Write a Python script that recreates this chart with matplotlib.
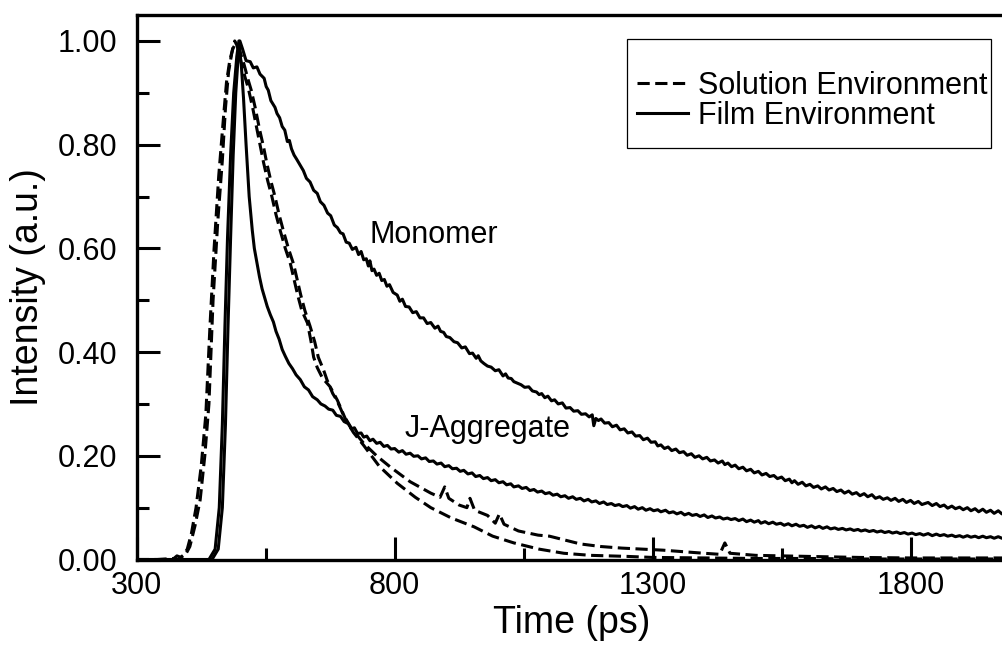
"""Time-resolved fluorescence decays: monomer vs J-aggregate, solution vs film.

Traces are read off the reference figure by eye (ps on x, normalised counts on y).
"""
import matplotlib
matplotlib.use("Agg")
import matplotlib.pyplot as plt
from matplotlib.lines import Line2D
from matplotlib.patches import Rectangle
from matplotlib.ticker import FixedLocator, FormatStrFormatter, MultipleLocator

# --- solution environment (dashed) -----------------------------------------
SOL_A_T = [300, 340, 372, 378, 386, 395, 403, 413, 423, 432, 440, 448, 457, 466,
           472, 478, 484, 490, 495, 502, 510, 516, 525, 533, 540, 546, 554, 562,
           570, 578, 588, 598, 605, 612, 620, 631, 638, 643, 650, 660, 675, 689,
           705, 720, 740, 770, 805, 840, 870, 910, 954, 990, 1031, 1080, 1128,
           1180, 1250, 1300, 1400, 1500, 1600, 1700, 1800, 1990]
SOL_A_I = [0.0, 0.0, 0.002, 0.007, 0.004, 0.01, 0.025, 0.065, 0.115, 0.20, 0.30,
           0.50, 0.65, 0.77, 0.87, 0.94, 0.975, 1.0, 0.99, 0.96, 0.93, 0.91, 0.87,
           0.83, 0.795, 0.765, 0.73, 0.70, 0.665, 0.635, 0.60, 0.57, 0.54, 0.51,
           0.48, 0.456, 0.42, 0.39, 0.37, 0.35, 0.333, 0.307, 0.27, 0.245, 0.22,
           0.18, 0.147, 0.12, 0.10, 0.08, 0.063, 0.045, 0.032, 0.02, 0.012, 0.008,
           0.006, 0.004, 0.003, 0.002, 0.002, 0.001, 0.001, 0.001]

SOL_B_T = [300, 345, 380, 390, 398, 406, 415, 425, 434, 442, 450, 459, 468, 474,
           480, 486, 492, 500, 508, 516, 522, 530, 538, 546, 552, 560, 568, 576,
           584, 594, 604, 611, 618, 626, 636, 645, 652, 662, 669, 680, 688, 700,
           715, 740, 765, 792, 830, 870, 888, 897, 905, 925, 940, 946, 955, 980,
           995, 1003, 1012, 1040, 1078, 1100, 1128, 1160, 1200, 1240, 1280, 1320,
           1360, 1400, 1430, 1440, 1450, 1500, 1600, 1700, 1800, 1900, 1990]
SOL_B_I = [0.0, 0.0, 0.0, 0.008, 0.02, 0.05, 0.10, 0.18, 0.28, 0.45, 0.60, 0.74,
           0.85, 0.92, 0.96, 0.985, 0.995, 0.98, 0.955, 0.925, 0.905, 0.87, 0.83,
           0.795, 0.765, 0.73, 0.70, 0.665, 0.635, 0.60, 0.57, 0.54, 0.51, 0.48,
           0.45, 0.42, 0.39, 0.366, 0.346, 0.32, 0.307, 0.28, 0.255, 0.224, 0.20,
           0.178, 0.15, 0.128, 0.12, 0.14, 0.118, 0.105, 0.10, 0.118, 0.095, 0.085,
           0.07, 0.088, 0.068, 0.055, 0.047, 0.045, 0.038, 0.03, 0.025, 0.022,
           0.02, 0.018, 0.015, 0.012, 0.01, 0.032, 0.012, 0.008, 0.006, 0.004,
           0.003, 0.003, 0.003]

# --- film environment (solid) -----------------------------------------------
FILM_MONO_T = [300, 446, 458, 466, 472, 477, 482, 487, 492, 496, 500,
               505, 512, 520, 526, 533, 539, 547, 551, 555, 560, 563, 568, 572, 577,
               582, 587, 592, 596, 600, 605, 610, 617, 623, 629, 636, 643, 650, 656,
               663, 670, 676, 683, 689, 695, 700, 706, 712, 718, 725, 730, 735, 740,
               745, 749, 752, 756, 760, 765, 770, 775, 780, 785, 790, 797, 805, 810,
               815, 821, 828, 835, 842, 849, 856, 863, 870, 878, 884, 889, 895, 900,
               907, 915, 922, 930, 937, 945, 951, 958, 962, 967, 973, 980, 987, 995,
               1002, 1010, 1015, 1020, 1026, 1031, 1038, 1045, 1052, 1060, 1067, 1075,
               1080, 1085, 1091, 1097, 1104, 1110, 1117, 1125, 1132, 1140, 1147, 1155,
               1162, 1170, 1177, 1183, 1186, 1190, 1195, 1200, 1207, 1215, 1222, 1230,
               1237, 1245, 1252, 1260, 1267, 1275, 1282, 1290, 1297, 1305, 1310, 1316,
               1323, 1330, 1337, 1345, 1352, 1360, 1367, 1375, 1382, 1390, 1397, 1405,
               1412, 1420, 1427, 1435, 1440, 1446, 1453, 1460, 1467, 1475, 1482, 1490,
               1497, 1505, 1512, 1520, 1527, 1535, 1542, 1550, 1557, 1565, 1570, 1575,
               1582, 1590, 1597, 1605, 1612, 1620, 1627, 1635, 1642, 1650, 1657, 1665,
               1672, 1680, 1687, 1695, 1702, 1710, 1717, 1725, 1732, 1740, 1747, 1755,
               1762, 1770, 1777, 1785, 1792, 1800, 1807, 1815, 1822, 1834, 1842, 1850,
               1857, 1865, 1872, 1880, 1887, 1895, 1902, 1910, 1917, 1925, 1932, 1940,
               1947, 1955, 1962, 1970, 1977, 1990]
FILM_MONO_I = [0.0, 0.0, 0.02, 0.10, 0.26, 0.45, 0.62, 0.78, 0.90, 0.96, 1.0,
               0.985, 0.962, 0.960, 0.948, 0.950, 0.936, 0.928, 0.912, 0.905, 0.885,
               0.880, 0.872, 0.860, 0.852, 0.835, 0.828, 0.806, 0.808, 0.792, 0.780,
               0.772, 0.760, 0.750, 0.735, 0.728, 0.712, 0.706, 0.690, 0.683, 0.668,
               0.663, 0.645, 0.640, 0.630, 0.628, 0.612, 0.610, 0.598, 0.602, 0.588,
               0.594, 0.578, 0.580, 0.566, 0.576, 0.557, 0.560, 0.548, 0.552, 0.538,
               0.540, 0.527, 0.530, 0.515, 0.510, 0.498, 0.502, 0.488, 0.487, 0.476,
               0.478, 0.466, 0.466, 0.455, 0.457, 0.446, 0.450, 0.440, 0.438, 0.430,
               0.428, 0.420, 0.418, 0.408, 0.410, 0.397, 0.398, 0.388, 0.393, 0.383,
               0.378, 0.373, 0.371, 0.364, 0.366, 0.354, 0.358, 0.350, 0.349, 0.343,
               0.340, 0.337, 0.332, 0.333, 0.325, 0.323, 0.318, 0.320, 0.312, 0.315,
               0.306, 0.308, 0.300, 0.302, 0.292, 0.293, 0.286, 0.287, 0.280, 0.281,
               0.275, 0.279, 0.258, 0.272, 0.268, 0.271, 0.263, 0.264, 0.256, 0.259,
               0.250, 0.252, 0.244, 0.246, 0.238, 0.239, 0.231, 0.234, 0.226, 0.227,
               0.219, 0.221, 0.214, 0.217, 0.210, 0.213, 0.206, 0.208, 0.201, 0.204,
               0.197, 0.200, 0.194, 0.197, 0.190, 0.192, 0.186, 0.190, 0.183, 0.186,
               0.179, 0.182, 0.175, 0.178, 0.171, 0.174, 0.167, 0.170, 0.163, 0.166,
               0.160, 0.162, 0.156, 0.159, 0.152, 0.155, 0.148, 0.152, 0.145, 0.149,
               0.142, 0.145, 0.139, 0.142, 0.136, 0.140, 0.134, 0.137, 0.131, 0.134,
               0.128, 0.132, 0.126, 0.129, 0.123, 0.127, 0.121, 0.125, 0.118, 0.121,
               0.116, 0.119, 0.114, 0.118, 0.112, 0.116, 0.110, 0.114, 0.108, 0.112,
               0.106, 0.110, 0.104, 0.108, 0.102, 0.105, 0.099, 0.103, 0.098, 0.101,
               0.096, 0.100, 0.094, 0.098, 0.092, 0.097, 0.091, 0.095, 0.089, 0.094,
               0.088, 0.093]

FILM_JAGG_T = [300, 440, 452, 460, 466, 471, 476, 482, 488, 494, 498,
               503, 507, 512, 518, 524, 528, 533, 538, 543, 548, 553, 559, 565, 570,
               576, 582, 588, 595, 602, 609, 617, 625, 633, 641, 650, 657, 665, 672,
               680, 687, 695, 702, 710, 716, 722, 728, 735, 740, 746, 752, 758, 765,
               772, 779, 786, 793, 800, 808, 815, 822, 830, 837, 845, 852, 860, 867,
               875, 882, 890, 897, 905, 912, 920, 927, 934, 942, 950, 957, 965, 972,
               980, 987, 995, 1002, 1010, 1017, 1025, 1031, 1040, 1047, 1055, 1062,
               1070, 1077, 1085, 1092, 1100, 1107, 1115, 1122, 1130, 1137, 1145, 1152,
               1160, 1167, 1175, 1182, 1190, 1197, 1205, 1212, 1220, 1227, 1235, 1242,
               1250, 1257, 1265, 1272, 1280, 1287, 1295, 1302, 1310, 1316, 1325, 1332,
               1340, 1347, 1355, 1362, 1370, 1377, 1385, 1392, 1400, 1407, 1415, 1422,
               1430, 1437, 1445, 1452, 1460, 1467, 1475, 1482, 1490, 1497, 1505, 1510,
               1518, 1525, 1533, 1540, 1548, 1555, 1563, 1570, 1578, 1585, 1593, 1600,
               1608, 1615, 1623, 1630, 1638, 1645, 1653, 1660, 1668, 1675, 1683, 1690,
               1698, 1704, 1712, 1720, 1728, 1735, 1743, 1750, 1758, 1765, 1773, 1780,
               1788, 1795, 1803, 1810, 1818, 1825, 1834, 1842, 1850, 1857, 1865, 1872,
               1880, 1887, 1895, 1902, 1910, 1917, 1925, 1932, 1940, 1947, 1955, 1962,
               1970, 1977, 1990]
FILM_JAGG_I = [0.0, 0.0, 0.02, 0.10, 0.26, 0.45, 0.62, 0.78, 0.90, 0.97, 1.0,
               0.950, 0.890, 0.800, 0.700, 0.635, 0.600, 0.572, 0.545, 0.522, 0.505,
               0.488, 0.472, 0.458, 0.440, 0.425, 0.405, 0.392, 0.378, 0.368, 0.356,
               0.347, 0.333, 0.327, 0.314, 0.308, 0.300, 0.296, 0.290, 0.288, 0.278,
               0.276, 0.266, 0.262, 0.252, 0.254, 0.243, 0.244, 0.236, 0.238, 0.229,
               0.232, 0.224, 0.226, 0.218, 0.220, 0.213, 0.214, 0.207, 0.210, 0.203,
               0.205, 0.199, 0.200, 0.194, 0.196, 0.189, 0.190, 0.184, 0.186, 0.179,
               0.181, 0.175, 0.176, 0.170, 0.172, 0.165, 0.167, 0.160, 0.162, 0.156,
               0.158, 0.152, 0.154, 0.148, 0.150, 0.144, 0.146, 0.140, 0.142, 0.137,
               0.139, 0.133, 0.135, 0.130, 0.132, 0.127, 0.129, 0.124, 0.126, 0.121,
               0.123, 0.118, 0.121, 0.116, 0.118, 0.113, 0.116, 0.111, 0.113, 0.108,
               0.111, 0.106, 0.108, 0.104, 0.106, 0.102, 0.104, 0.099, 0.102, 0.097,
               0.100, 0.095, 0.098, 0.094, 0.096, 0.092, 0.095, 0.090, 0.092, 0.088,
               0.091, 0.086, 0.089, 0.085, 0.087, 0.083, 0.086, 0.081, 0.084, 0.080,
               0.082, 0.078, 0.080, 0.077, 0.079, 0.075, 0.078, 0.073, 0.076, 0.072,
               0.075, 0.070, 0.073, 0.069, 0.072, 0.068, 0.070, 0.066, 0.069, 0.065,
               0.068, 0.064, 0.066, 0.062, 0.065, 0.061, 0.064, 0.060, 0.063, 0.059,
               0.061, 0.058, 0.060, 0.057, 0.059, 0.056, 0.058, 0.055, 0.057, 0.054,
               0.056, 0.053, 0.055, 0.052, 0.054, 0.051, 0.053, 0.050, 0.052, 0.049,
               0.051, 0.048, 0.050, 0.047, 0.050, 0.046, 0.049, 0.046, 0.048, 0.045,
               0.047, 0.044, 0.046, 0.043, 0.046, 0.043, 0.045, 0.042, 0.045, 0.042,
               0.044, 0.041, 0.044, 0.041, 0.043]

LEGEND_LABELS = ["Solution Environment", "Film Environment"]
ANNOTATIONS = [("Monomer", 751, 0.610), ("J-Aggregate", 819, 0.236)]

X_MAJOR = [300, 800, 1300, 1800]
X_MINOR = [550, 1050, 1550]

LW = 2.2
DASH = (0, (4.0, 1.8))


def main() -> None:
    plt.rcParams["font.family"] = ["Liberation Sans", "DejaVu Sans"]

    fig = plt.figure(figsize=(10.03, 6.56), dpi=100)
    ax = fig.add_axes([0.1363, 0.1471, 0.8667, 0.830])

    ax.plot(SOL_A_T, SOL_A_I, color="black", lw=LW, linestyle=DASH)
    ax.plot(SOL_B_T, SOL_B_I, color="black", lw=LW, linestyle=DASH)
    ax.plot(FILM_MONO_T, FILM_MONO_I, color="black", lw=LW, solid_joinstyle="round")
    ax.plot(FILM_JAGG_T, FILM_JAGG_I, color="black", lw=LW, solid_joinstyle="round")

    for text, x, y in ANNOTATIONS:
        ax.text(x, y, text, fontsize=22, ha="left", va="baseline")

    ax.set_xlim(300, 1985)
    ax.set_ylim(0, 1.05)

    ax.xaxis.set_major_locator(FixedLocator(X_MAJOR))
    ax.xaxis.set_minor_locator(FixedLocator(X_MINOR))
    ax.yaxis.set_major_locator(MultipleLocator(0.2))
    ax.yaxis.set_minor_locator(MultipleLocator(0.1))
    ax.yaxis.set_major_formatter(FormatStrFormatter("%.2f"))

    ax.tick_params(which="both", direction="in", width=2.2, top=False, right=False)
    ax.tick_params(which="major", length=16.5)
    ax.tick_params(which="minor", length=8.5)
    ax.tick_params(axis="y", which="major", labelsize=22, pad=14)
    ax.tick_params(axis="x", which="major", labelsize=22, pad=8)

    for side in ("left", "bottom", "top"):
        ax.spines[side].set_linewidth(2.4)
    ax.spines["right"].set_visible(False)

    ax.set_xlabel("Time (ps)", fontsize=27, labelpad=3)
    ax.set_ylabel("Intensity (a.u.)", fontsize=27, labelpad=8)

    handles = [Line2D([], [], color="black", lw=LW, linestyle=DASH),
               Line2D([], [], color="black", lw=LW)]
    ax.legend(handles, LEGEND_LABELS, loc="upper left", bbox_to_anchor=(0.5755, 0.897),
              frameon=False, borderpad=0, borderaxespad=0, handlelength=1.67,
              handletextpad=0.33, labelspacing=0.0, fontsize=22)
    ax.add_patch(Rectangle((0.564, 0.7552), 0.4188, 0.2002, transform=ax.transAxes,
                           fill=False, lw=0.9, ec="black", zorder=5))

    fig.savefig("out.png", dpi=100)


if __name__ == "__main__":
    main()
